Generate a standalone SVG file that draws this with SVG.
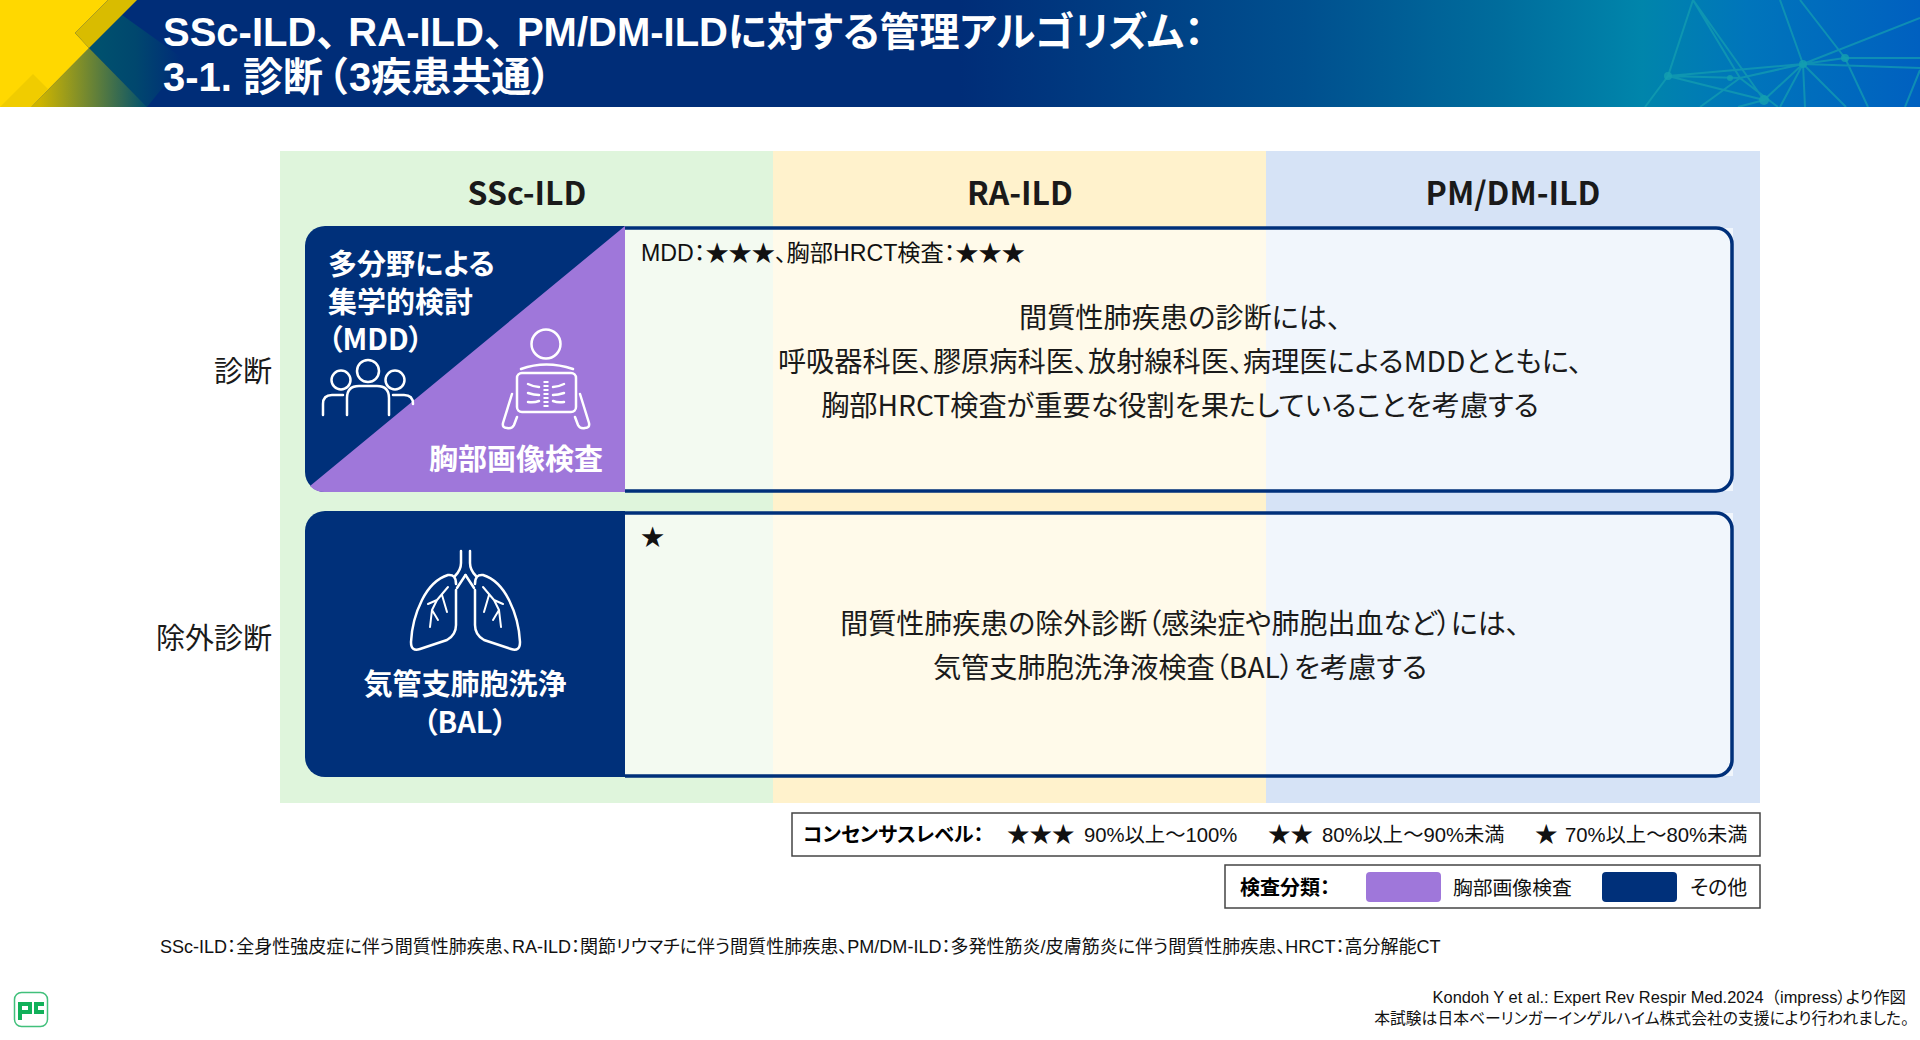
<svg xmlns="http://www.w3.org/2000/svg" width="1920" height="1040" viewBox="0 0 1920 1040">
<style>
text{font-family:"Liberation Sans","Noto Sans CJK JP",sans-serif;fill:#000;font-feature-settings:"palt"}
.n{font-family:"Noto Sans CJK JP",sans-serif}
.fw{font-feature-settings:normal}
.t{font-size:40px;font-weight:700;fill:#fff}
.h{font-size:32px;font-weight:700;text-anchor:middle;fill:#1a1a1a}
.r{font-size:29px;text-anchor:end;fill:#1a1a1a}
.b{font-size:29px;font-weight:700;fill:#fff}
.m{font-size:28.2px;text-anchor:middle;fill:#1a1a1a}
.s{font-size:23.2px;fill:#111}
.l{font-size:20px;fill:#111}
.lb{font-size:20px;font-weight:700;fill:#000}
.f{font-size:18.05px;fill:#111}
.e{font-size:15.8px;text-anchor:end;fill:#111}
.ic{fill:none;stroke:#fff;stroke-width:2.5;stroke-linecap:round;stroke-linejoin:round}
.box{fill:none;stroke:#00307a;stroke-width:3.5}
.lg{fill:#fff;stroke:#444;stroke-width:1.5}
</style>
<defs>
<linearGradient id="hg" x1="0" x2="1" y1="0" y2="0">
<stop offset="0" stop-color="#002d78"/><stop offset=".5" stop-color="#002d78"/><stop offset=".68" stop-color="#00508f"/><stop offset=".78" stop-color="#006c9c"/><stop offset=".855" stop-color="#0085ab"/><stop offset=".91" stop-color="#0075bb"/><stop offset="1" stop-color="#0060c0"/>
</linearGradient>
<linearGradient id="ol" x1="40" x2="147" y1="0" y2="0" gradientUnits="userSpaceOnUse"><stop offset="0" stop-color="#cdb400"/><stop offset="1" stop-color="#00506e"/></linearGradient>
<linearGradient id="te" x1="100" x2="180" y1="0" y2="0" gradientUnits="userSpaceOnUse"><stop offset="0" stop-color="#00506e"/><stop offset=".45" stop-color="#00476e"/><stop offset="1" stop-color="#002d78"/></linearGradient>
<clipPath id="hc"><rect width="1920" height="107"/></clipPath>
</defs>
<rect width="1920" height="1040" fill="#fff"/>
<g id="header" clip-path="url(#hc)">
<rect width="1920" height="107" fill="url(#hg)"/>
<polygon points="122,15 89,48 147,107 185,60" fill="url(#te)"/>
<polygon points="89,48 31,107 147,107" fill="url(#ol)"/>
<polygon points="0,0 108,0 75,33 89,48 31,107 0,107" fill="#ffd800"/>
<polygon points="108,0 137,0 89,48 75,33" fill="#d9bc00"/>
<polygon points="33,74 48,89 31,107 0,107" fill="#f0cc00"/>
<g stroke="#14a0b0" fill="none" stroke-width="2" opacity=".7">
<path d="M1693,0L1668,76L1645,107M1693,0L1764,100M1693,0L1740,78L1778,107M1668,76L1803,64L1920,18M1668,76L1740,78L1803,64L1845,58L1920,58M1803,64L1764,100L1738,107M1803,64L1780,0M1803,64L1846,107M1803,64L1805,107M1803,64L1780,107M1668,76L1764,100M1803,64L1920,68M1845,58L1868,107M1845,58L1800,0M1740,78L1700,107M1920,70L1905,107"/>
</g>
<g fill="#14a0b0" opacity=".8"><circle cx="1668" cy="76" r="4"/><circle cx="1803" cy="64" r="4"/><circle cx="1845" cy="58" r="4"/><circle cx="1764" cy="100" r="5"/><circle cx="1730" cy="78" r="3"/></g>
<text class="t" x="163" y="46">SSc-ILD<tspan class="fw">、</tspan><tspan dx="-8">RA-ILD</tspan><tspan class="fw">、</tspan><tspan dx="-7">PM/DM-ILDに対する管理アルゴリズム：</tspan></text>
<text class="t" x="163" y="91">3-1. 診断<tspan class="fw" dx="-14">（</tspan>3疾患共通）</text>
</g>
<g id="columns">
<rect x="280" y="151" width="493" height="652" fill="#dff5dc"/>
<rect x="773" y="151" width="493" height="652" fill="#fff2cc"/>
<rect x="1266" y="151" width="494" height="652" fill="#d6e3f6"/>
<text class="h n" x="527" y="205">SSc-ILD</text>
<text class="h n" x="1020" y="205">RA-ILD</text>
<text class="h n" x="1513" y="205">PM/DM-ILD</text>
</g>
<g id="row-labels">
<text class="r n" x="272" y="382">診断</text>
<text class="r n" x="272" y="649">除外診断</text>
</g>
<g id="row1">
<rect x="625" y="228" width="148" height="263" fill="#f3faf1"/>
<rect x="773" y="228" width="493" height="263" fill="#fffaea"/>
<rect x="1266" y="228" width="467" height="263" fill="#f1f6fc"/>
<path class="box" d="M625,228H1716a16,16 0 0 1 16,16V475a16,16 0 0 1-16,16H625"/>
<path d="M625,226V492H325a20,20 0 0 1-20-20V246a20,20 0 0 1 20-20Z" fill="#00307a"/>
<path d="M625,226V492H325a20,20 0 0 1-15-6Z" fill="#9f77da"/>
<text class="b n" x="328" y="275">多分野による</text>
<text class="b n" x="328" y="313">集学的検討</text>
<text class="b n" x="328" y="350">（MDD）</text>
<text class="b n" x="429" y="470">胸部画像検査</text>
<g class="ic">
<circle cx="368" cy="371" r="11"/><circle cx="341" cy="380" r="9.500"/><circle cx="395" cy="380" r="9.500"/>
<path d="M347,415V398q0-12 12-12h18q12,0 12,12v17"/>
<path d="M323,415V404q0-9 9-9h11M393,395h11q9,0 9,9"/>
<circle cx="546" cy="344" r="14.500"/>
<path d="M521,369q25-9 52,0"/>
<rect x="517" y="373" width="59" height="39" rx="5"/>
<path d="M512,394l-9,29q-1,5 4,5q5,1 7-3l3-8M580,394l9,29q1,5-4,5q-5,1-7-3l-3-8"/>
<path d="M546,381v26" stroke-width="5" stroke-dasharray="2 2" stroke-linecap="butt"/>
<path d="M528,384q6,3 11,3M528,393q6,2 11,2M528,402q6,1 11-1M564,384q-6,3-11,3M564,393q-6,2-11,2M564,402q-6,1-11-1" stroke-width="2.500"/>
</g>
<text class="s" x="641" y="261">MDD：★★★、胸部HRCT検査：★★★</text>
<text class="m n" x="1180" y="328">間質性肺疾患の診断には、</text>
<text class="m n" x="1180" y="372">呼吸器科医、膠原病科医、放射線科医、病理医によるMDDとともに、</text>
<text class="m n" x="1180" y="416">胸部HRCT検査が重要な役割を果たしていることを考慮する</text>
</g>
<g id="row2">
<rect x="625" y="513" width="148" height="263" fill="#f3faf1"/>
<rect x="773" y="513" width="493" height="263" fill="#fffaea"/>
<rect x="1266" y="513" width="467" height="263" fill="#f1f6fc"/>
<path class="box" d="M625,513H1716a16,16 0 0 1 16,16V760a16,16 0 0 1-16,16H625"/>
<path d="M625,511V777H325a20,20 0 0 1-20-20V531a20,20 0 0 1 20-20Z" fill="#00307a"/>
<g class="ic">
<g id="lungL">
<path d="M456,590V625Q456,635 447,640L420,649Q411,652 411,642Q412,620 422,600Q432,580 448,575Q456,574 456,584"/>
<path d="M461,551V563Q461,570 455,576M457,588L465.500,575"/>
<path d="M448,587L437,600L428,604M437,600L432,610L430,627M432,610L438,620M442,595L447,612" stroke-width="2"/>
</g>
<g transform="translate(931,0) scale(-1,1)">
<path d="M456,590V625Q456,635 447,640L420,649Q411,652 411,642Q412,620 422,600Q432,580 448,575Q456,574 456,584"/>
<path d="M461,551V563Q461,570 455,576M457,588L465.500,575"/>
<path d="M448,587L437,600L428,604M437,600L432,610L430,627M432,610L438,620M442,595L447,612" stroke-width="2"/>
</g>
</g>
<text class="b n" x="465" y="695" text-anchor="middle">気管支肺胞洗浄</text>
<text class="b n" x="465" y="733" text-anchor="middle">（BAL）</text>
<text class="s" x="641" y="545">★</text>
<text class="m n" x="1180" y="634" style="font-size:28px">間質性肺疾患の除外診断（感染症や肺胞出血など）には、</text>
<text class="m n" x="1180" y="678" style="font-size:28.2px">気管支肺胞洗浄液検査（BAL）を考慮する</text>
</g>
<g id="legend-consensus">
<rect class="lg" x="792" y="813" width="968" height="43"/>
<text class="lb" x="803" y="842">コンセンサスレベル：</text>
<text class="l" x="1007" y="842" style="font-size:22.500px">★★★</text>
<text class="l" x="1084" y="842" style="font-size:20.300px">90%以上～100%</text>
<text class="l" x="1268" y="842" style="font-size:22.500px">★★</text>
<text class="l" x="1322" y="842" style="font-size:20.300px">80%以上～90%未満</text>
<text class="l" x="1535" y="842" style="font-size:22.500px">★</text>
<text class="l" x="1565" y="842" style="font-size:20.300px">70%以上～80%未満</text>
</g>
<g id="legend-type">
<rect class="lg" x="1225" y="865" width="535" height="43"/>
<text class="lb" x="1240" y="895">検査分類：</text>
<rect x="1366" y="872" width="75" height="30" rx="4" fill="#9f77da"/>
<text class="l" x="1453" y="895" style="font-size:19.800px">胸部画像検査</text>
<rect x="1602" y="872" width="75" height="30" rx="4" fill="#00307a"/>
<text class="l" x="1690" y="895">その他</text>
</g>
<g id="footnotes">
<text class="f" x="160" y="953">SSc-ILD：全身性強皮症に伴う間質性肺疾患、RA-ILD：関節リウマチに伴う間質性肺疾患、PM/DM-ILD：多発性筋炎/皮膚筋炎に伴う間質性肺疾患、HRCT：高分解能CT</text>
<text class="e" x="1906" y="1003" style="font-size:16.400px">Kondoh Y et al.: Expert Rev Respir Med.2024<tspan class="fw">（</tspan>impress）より作図</text>
<text class="e" x="1909" y="1024">本試験は日本ベーリンガーインゲルハイム株式会社の支援により行われました。</text>
</g>
<g id="logo">
<rect x="14.500" y="992.500" width="33" height="34" rx="7" fill="none" stroke="#12b05a" stroke-width="1.500" opacity=".8"/>
<path d="M18,1002H32V1014H22V1020H18ZM22,1006V1010H28V1006ZM44,1002H34V1014H44V1010H38V1006H44Z" fill="#12b05a" fill-rule="evenodd"/>
</g>
</svg>
